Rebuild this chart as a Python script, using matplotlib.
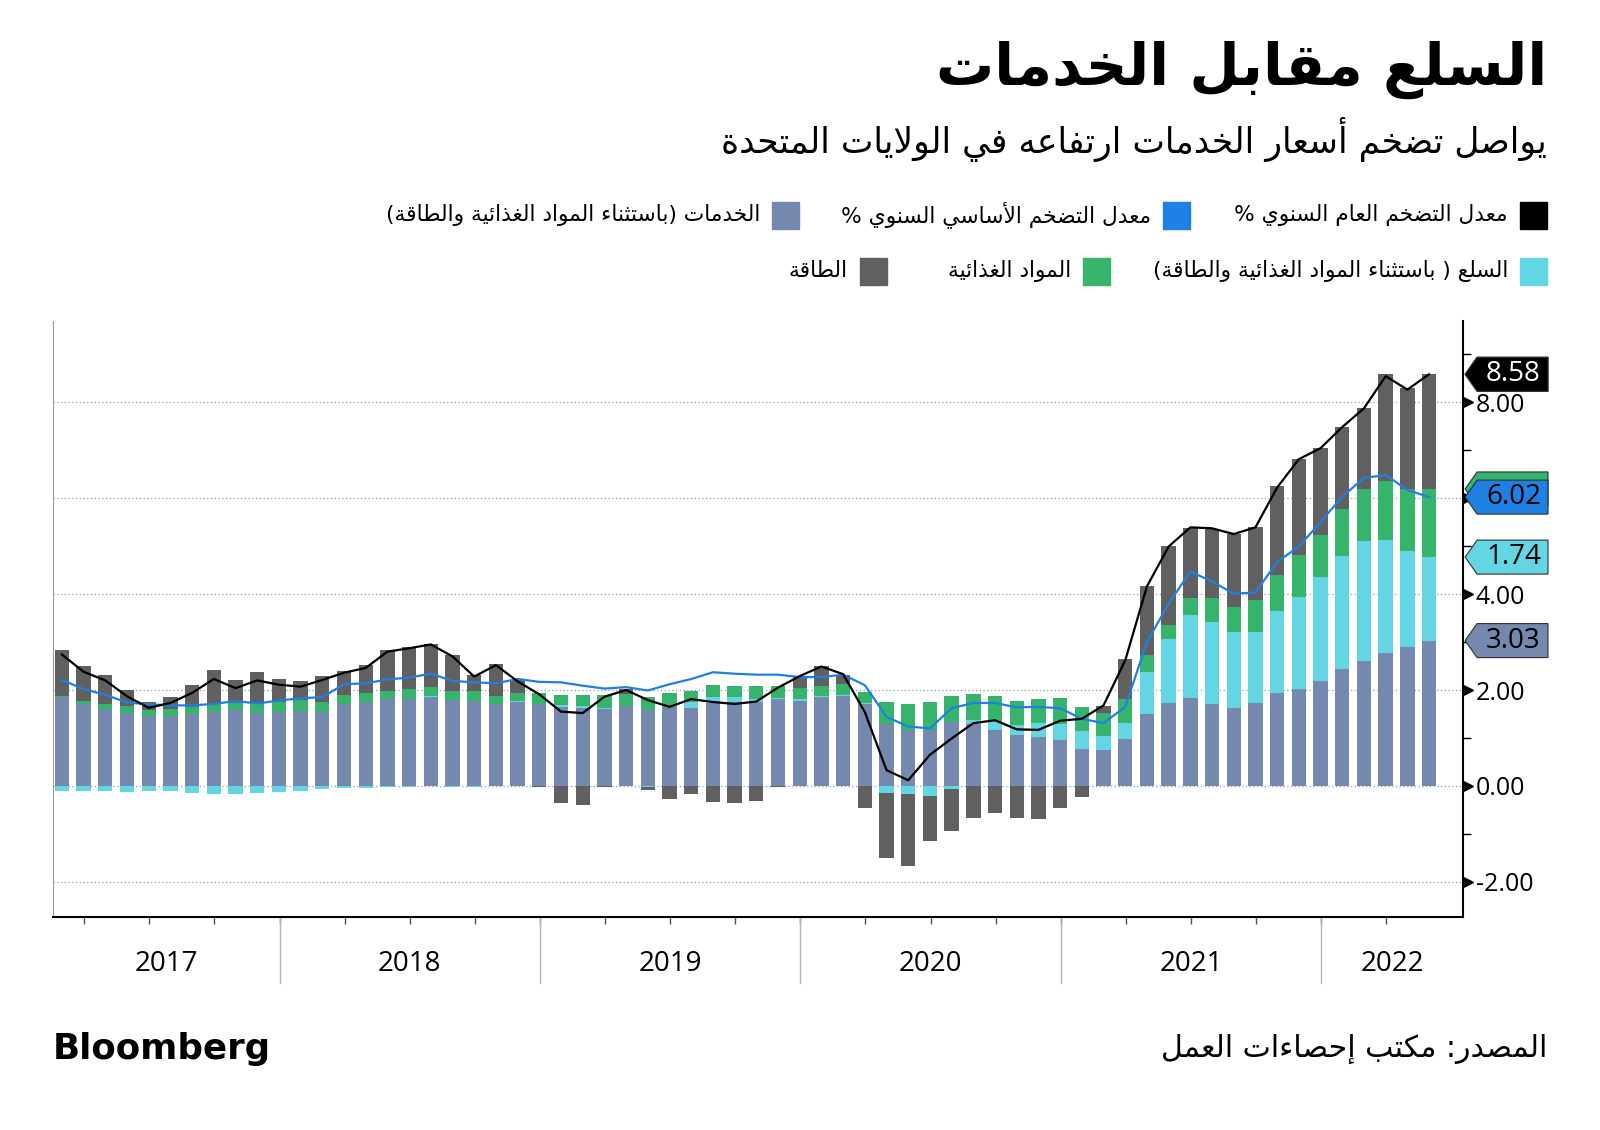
import numpy as np
import matplotlib
matplotlib.use("Agg")
import matplotlib.pyplot as plt
from matplotlib.patches import Polygon, Rectangle

# contributions to US CPI y/y (pp), monthly Feb 2017 .. May 2022
services = [1.85, 1.70, 1.61, 1.52, 1.45, 1.45, 1.50, 1.54, 1.59, 1.52, 1.54,
            1.57, 1.54, 1.71, 1.74, 1.81, 1.82, 1.86, 1.79, 1.78, 1.71, 1.74, 1.70,
            1.64, 1.63, 1.61, 1.66, 1.59, 1.64, 1.63, 1.72, 1.74, 1.74, 1.81, 1.77,
            1.86, 1.88, 1.70, 1.29, 1.17, 1.17, 1.34, 1.29, 1.17, 1.07, 1.03, 0.96,
            0.78, 0.74, 0.97, 1.50, 1.72, 1.83, 1.70, 1.63, 1.72, 1.93, 2.03, 2.19,
            2.43, 2.61, 2.77, 2.90, 3.03]
goods = [-0.10, -0.10, -0.10, -0.13, -0.10, -0.10, -0.15, -0.17, -0.17, -0.15, -0.12,
         -0.10, -0.07, -0.05, -0.05, -0.03, -0.02, 0.01, -0.02, -0.03, 0.00, 0.04, 0.01,
         0.04, 0.03, 0.02, 0.01, -0.02, 0.00, 0.11, 0.14, 0.11, 0.07, 0.03, 0.04,
         0.01, 0.01, 0.02, -0.15, -0.17, -0.21, -0.07, 0.08, 0.16, 0.20, 0.28, 0.33,
         0.37, 0.30, 0.34, 0.88, 1.34, 1.74, 1.72, 1.58, 1.49, 1.72, 1.91, 2.16,
         2.36, 2.50, 2.36, 2.00, 1.74]
food = [0.03, 0.08, 0.09, 0.14, 0.14, 0.15, 0.14, 0.16, 0.13, 0.19, 0.20,
        0.23, 0.20, 0.19, 0.19, 0.18, 0.21, 0.20, 0.20, 0.21, 0.17, 0.16, 0.22,
        0.22, 0.24, 0.27, 0.25, 0.26, 0.29, 0.25, 0.24, 0.23, 0.27, 0.24, 0.23,
        0.22, 0.23, 0.24, 0.47, 0.53, 0.58, 0.54, 0.54, 0.55, 0.50, 0.50, 0.54,
        0.50, 0.49, 0.50, 0.34, 0.29, 0.35, 0.50, 0.52, 0.66, 0.75, 0.87, 0.89,
        0.99, 1.08, 1.22, 1.28, 1.42]
energy = [0.95, 0.72, 0.62, 0.34, 0.15, 0.25, 0.47, 0.71, 0.49, 0.66, 0.50,
          0.39, 0.56, 0.49, 0.59, 0.84, 0.87, 0.88, 0.74, 0.33, 0.67, 0.27, -0.02,
          -0.36, -0.39, -0.03, 0.10, -0.06, -0.27, -0.17, -0.34, -0.36, -0.31, -0.02, 0.26,
          0.42, 0.20, -0.45, -1.35, -1.49, -0.94, -0.87, -0.67, -0.56, -0.67, -0.69, -0.45,
          -0.22, 0.14, 0.83, 1.45, 1.65, 1.46, 1.43, 1.53, 1.52, 1.85, 2.01, 1.81,
          1.71, 1.69, 2.24, 2.12, 2.39]
headline = [2.74, 2.38, 2.20, 1.87, 1.63, 1.73, 1.94, 2.23, 2.04, 2.20, 2.11,
            2.07, 2.21, 2.36, 2.46, 2.80, 2.87, 2.95, 2.70, 2.28, 2.52, 2.18, 1.91,
            1.55, 1.52, 1.86, 2.00, 1.79, 1.65, 1.81, 1.75, 1.71, 1.76, 2.05, 2.29,
            2.49, 2.33, 1.54, 0.33, 0.12, 0.65, 0.99, 1.31, 1.37, 1.18, 1.17, 1.36,
            1.40, 1.68, 2.62, 4.16, 4.99, 5.39, 5.37, 5.25, 5.39, 6.22, 6.81, 7.04,
            7.48, 7.87, 8.54, 8.26, 8.58]
core = [2.21, 2.02, 1.90, 1.74, 1.70, 1.68, 1.68, 1.71, 1.77, 1.72, 1.78,
        1.83, 1.85, 2.12, 2.14, 2.22, 2.26, 2.34, 2.19, 2.16, 2.14, 2.23, 2.17,
        2.16, 2.09, 2.03, 2.06, 1.99, 2.12, 2.23, 2.37, 2.34, 2.32, 2.32, 2.27,
        2.27, 2.32, 2.10, 1.44, 1.24, 1.20, 1.62, 1.73, 1.73, 1.64, 1.65, 1.62,
        1.40, 1.31, 1.65, 3.00, 3.80, 4.47, 4.26, 4.01, 4.03, 4.67, 4.99, 5.50,
        6.03, 6.42, 6.48, 6.17, 6.02]
first_month = 2  # February 2017
years = ["2017", "2018", "2019", "2020", "2021", "2022"]
yticks = [-2, 0, 2, 4, 6, 8]

title = "السلع مقابل الخدمات"
subtitle = "يواصل تضخم أسعار الخدمات ارتفاعه في الولايات المتحدة"
lbl_headline = "معدل التضخم العام السنوي %"
lbl_core = "معدل التضخم الأساسي السنوي %"
lbl_services = "الخدمات (باستثناء المواد الغذائية والطاقة)"
lbl_goods = "السلع ( باستثناء المواد الغذائية والطاقة)"
lbl_food = "المواد الغذائية"
lbl_energy = "الطاقة"
source = "المصدر: مكتب إحصاءات العمل"

C_SERV = "#7489ad"
C_GOODS = "#64d6e3"
C_FOOD = "#37b46b"
C_ENERGY = "#606060"
C_CORE = "#1f80e3"

# --- minimal arabic shaping (matplotlib has no RTL / joining support) ---
FORMS = {"ء": (0xFE80, 0), "آ": (0xFE81, 1), "أ": (0xFE83, 1), "ؤ": (0xFE85, 1),
         "إ": (0xFE87, 1), "ئ": (0xFE89, 2), "ا": (0xFE8D, 1), "ب": (0xFE8F, 2),
         "ة": (0xFE93, 1), "ت": (0xFE95, 2), "ث": (0xFE99, 2), "ج": (0xFE9D, 2),
         "ح": (0xFEA1, 2), "خ": (0xFEA5, 2), "د": (0xFEA9, 1), "ذ": (0xFEAB, 1),
         "ر": (0xFEAD, 1), "ز": (0xFEAF, 1), "س": (0xFEB1, 2), "ش": (0xFEB5, 2),
         "ص": (0xFEB9, 2), "ض": (0xFEBD, 2), "ط": (0xFEC1, 2), "ظ": (0xFEC5, 2),
         "ع": (0xFEC9, 2), "غ": (0xFECD, 2), "ف": (0xFED1, 2), "ق": (0xFED5, 2),
         "ك": (0xFED9, 2), "ل": (0xFEDD, 2), "م": (0xFEE1, 2), "ن": (0xFEE5, 2),
         "ه": (0xFEE9, 2), "و": (0xFEED, 1), "ى": (0xFEEF, 1), "ي": (0xFEF1, 2)}
LAM_ALEF = {"آ": 0xFEF5, "أ": 0xFEF7, "إ": 0xFEF9, "ا": 0xFEFB}
MIRROR = {"(": ")", ")": "("}


def ar(s):
    out = []
    i, n = 0, len(s)
    while i < n:
        c = s[i]
        if c not in FORMS:
            out.append(c)
            i += 1
            continue
        prev = s[i - 1] if i > 0 else None
        joins_prev = prev in FORMS and FORMS[prev][1] == 2
        if c == "ل" and i + 1 < n and s[i + 1] in LAM_ALEF:
            out.append(chr(LAM_ALEF[s[i + 1]] + (1 if joins_prev else 0)))
            i += 2
            continue
        base, kind = FORMS[c]
        nxt = s[i + 1] if i + 1 < n else None
        joins_next = kind == 2 and nxt in FORMS and FORMS[nxt][1] > 0
        if kind == 0:
            code = base
        elif joins_prev and joins_next:
            code = base + 3
        elif joins_prev:
            code = base + 1
        elif joins_next:
            code = base + 2
        else:
            code = base
        out.append(chr(code))
        i += 1
    return "".join(MIRROR.get(ch, ch) for ch in reversed(out))


W, H = 1600, 1130
fig = plt.figure(figsize=(W / 100, H / 100), dpi=100)
renderer = fig.canvas.get_renderer()


def fx(px):
    return px / W


def fy(py):
    return 1 - py / H


def fit(t, width):
    bb = t.get_window_extent(renderer=renderer)
    t.set_fontsize(t.get_fontsize() * width / bb.width)
    return t


# header
fit(fig.text(fx(1547), fy(70), ar(title), ha="right", va="center",
             family="DejaVu Sans", weight="bold", fontsize=40), 610)
fit(fig.text(fx(1547), fy(139), ar(subtitle), ha="right", va="center",
             family="DejaVu Sans", fontsize=20), 828)

# legend (right to left)
legend = [(lbl_headline, "black", 1520, 215), (lbl_core, C_CORE, 1163, 215),
          (lbl_services, C_SERV, 772, 215), (lbl_goods, C_GOODS, 1520, 271),
          (lbl_food, C_FOOD, 1083, 271), (lbl_energy, C_ENERGY, 860, 271)]
widths = [275, 313, 385, 360, 133, 63]
probe = [fig.text(0, 0, ar(l[0]), family="DejaVu Sans", fontsize=10) for l in legend]
lsize = min(10 * w / p.get_window_extent(renderer=renderer).width for p, w in zip(probe, widths))
for p in probe:
    p.remove()
for lab, col, sx, sy in legend:
    fig.patches.append(Rectangle((fx(sx), fy(sy + 13.5)), 27 / W, 27 / H, color=col,
                                 transform=fig.transFigure, figure=fig))
    fig.text(fx(sx - 12), fy(sy), ar(lab), ha="right", va="center",
             family="DejaVu Sans", fontsize=lsize)

# plot area
x0, x1, y0, y1 = 53, 1462.7, 321, 917
ax = fig.add_axes([fx(x0), fy(y1), (x1 - x0) / W, (y1 - y0) / H])
n = len(services)
x = np.arange(n)

pos = np.zeros(n)
neg = np.zeros(n)
for vals, col in [(services, C_SERV), (goods, C_GOODS), (food, C_FOOD), (energy, C_ENERGY)]:
    v = np.array(vals)
    ax.bar(x, v, width=0.66, bottom=np.where(v >= 0, pos, neg), color=col,
           linewidth=0, zorder=2)
    pos = pos + np.clip(v, 0, None)
    neg = neg + np.clip(v, None, 0)

ax.plot(x, core, color=C_CORE, lw=1.6, zorder=4)
ax.plot(x, headline, color="black", lw=1.6, zorder=5)

ax.set_xlim(-0.41, 64.55)
ax.set_ylim(-2.73, 9.69)
for v in yticks:
    ax.axhline(v, color="#9a9a9a", lw=0.9, ls=(0, (1, 2)), zorder=1)

# value tags on the right
tx0, tx1, tx2 = 1.0017, 1.0102, 1.0605
hh = 17 / 48
cum = np.cumsum([services[-1], goods[-1], food[-1], energy[-1]])
tags = [(cum[3], C_ENERGY, None, "black"),
        (headline[-1], "black", headline[-1], "white"),
        (cum[2], C_FOOD, None, "black"),
        (core[-1], C_CORE, core[-1], "black"),
        (cum[1], C_GOODS, goods[-1], "black"),
        (cum[0], C_SERV, services[-1], "black")]
for z, (yv, col, val, tc) in enumerate(tags):
    poly = Polygon([(tx0, yv), (tx1, yv + hh), (tx2, yv + hh), (tx2, yv - hh), (tx1, yv - hh)],
                   closed=True, facecolor=col, edgecolor="#303030", lw=0.8,
                   transform=ax.get_yaxis_transform(), clip_on=False, zorder=10 + z)
    ax.add_patch(poly)
    if val is not None:
        ax.text(1.036, yv, f"{val:.2f}", ha="center", va="center", color=tc,
                family="Open Sans", fontsize=20, transform=ax.get_yaxis_transform(),
                zorder=10 + z, clip_on=False)

# right axis; labels sitting under a tag are hidden as in the original
tag_ys = [t[0] for t in tags]
ax.yaxis.tick_right()
ax.set_yticks(yticks)
ax.set_yticklabels(["" if min(abs(v - t) for t in tag_ys) < 0.4 else f"{v:.2f}" for v in yticks],
                   family="Open Sans", fontsize=18)
ax.set_yticks(np.arange(-1, 10, 2), minor=True)
ax.tick_params(axis="y", which="major", length=0, pad=9.5)
ax.tick_params(axis="y", which="minor", length=6, width=1, color="black", direction="out")
ax.plot(np.full(len(yticks), 1.004), yticks, ls="none", marker=">", ms=7, color="black",
        transform=ax.get_yaxis_transform(), clip_on=False, zorder=6)

ax.spines["top"].set_visible(False)
ax.spines["left"].set_color("#999999")
ax.spines["right"].set_linewidth(1.5)
ax.spines["bottom"].set_linewidth(1.5)

# x axis: quarter ticks, year separators and labels
months = [(first_month - 1 + i) % 12 + 1 for i in range(n)]
qticks = [i + 0.03 for i in range(n) if months[i] in (3, 6, 9, 12)]
ybreaks = [i + 0.03 for i in range(n) if months[i] == 12]
ax.set_xticks(qticks)
ax.tick_params(axis="x", length=5, width=1, color="#555555", labelbottom=False)
ax.plot(np.repeat(ybreaks, 3), np.tile([0, -0.11, np.nan], len(ybreaks)),
        color="#b5b5b5", lw=1, transform=ax.get_xaxis_transform(), clip_on=False)
edges = [ax.get_xlim()[0]] + ybreaks + [ax.get_xlim()[1]]
for k, yr in enumerate(years):
    ax.text((edges[k] + edges[k + 1]) / 2, -0.079, yr, ha="center", va="center",
            family="Open Sans", fontsize=20, transform=ax.get_xaxis_transform())

# footer
fit(fig.text(fx(53), fy(1049), "Bloomberg", ha="left", va="center",
             family=["Liberation Sans Narrow", "DejaVu Sans"], weight="bold", fontsize=30), 218)
fit(fig.text(fx(1547), fy(1049), ar(source), ha="right", va="center",
             family="DejaVu Sans", fontsize=20), 387)

fig.savefig("out.png", dpi=100)
